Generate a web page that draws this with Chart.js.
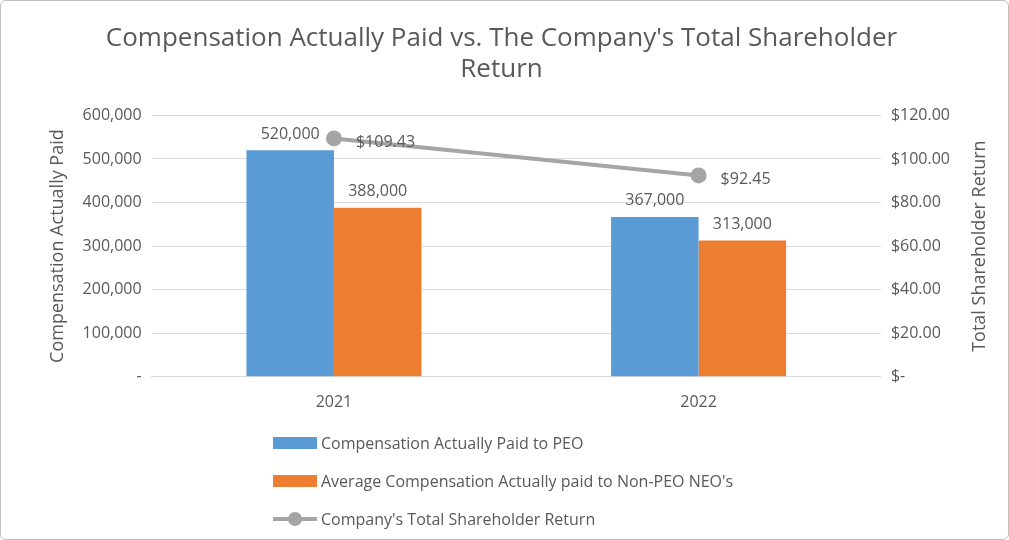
<!DOCTYPE html>
<html><head><meta charset="utf-8">
<script src="https://cdn.jsdelivr.net/npm/chart.js@4/dist/chart.umd.min.js"></script>
<style>
body{margin:0;background:#fff;font-family:Calibri,"Liberation Sans Narrow","Open Sans",sans-serif}
#wrap{position:relative;width:1007px;height:538px;border:1px solid #bfbfbf;border-radius:6px;overflow:hidden}
#legend{position:absolute;left:272px;top:423px;font-size:16px;color:#595959;font-family:"Open Sans",sans-serif}
#legend div{display:flex;align-items:center;height:38px}
.sw{width:44px;height:12px;margin-right:4px}
.ln{width:44px;height:4px;background:#a5a5a5;position:relative;margin-right:4px}
.ln:after{content:"";position:absolute;left:15px;top:-5px;width:14px;height:14px;border-radius:50%;background:#a5a5a5}
</style></head>
<body><div id="wrap"><canvas id="c" width="1007" height="538"></canvas>
<div id="legend">
<div><span class="sw" style="background:#5b9bd5"></span>Compensation Actually Paid to PEO</div>
<div><span class="sw" style="background:#ed7d31"></span>Average Compensation Actually paid to Non-PEO NEO's</div>
<div><span class="ln"></span>Company's Total Shareholder Return</div>
</div></div>
<script>
const years = ['2021', '2022'];
const peoPaid = [520000, 367000];
const neoPaid = [388000, 313000];
const tsr = [109.43, 92.45];

const grey = '#595959';
const font = {family: '"Open Sans", sans-serif', size: 16};

const labelPlugin = {
  id: 'labels',
  afterDatasetsDraw(chart) {
    const ctx = chart.ctx;
    ctx.save();
    ctx.font = '16px "Open Sans", sans-serif';
    ctx.fillStyle = grey;
    chart.data.datasets.forEach((ds, i) => {
      chart.getDatasetMeta(i).data.forEach((el, j) => {
        if (ds.type === 'line') {
          ctx.textAlign = 'left'; ctx.textBaseline = 'middle';
          ctx.fillText('$' + ds.data[j].toFixed(2), el.x + 22, el.y + 4);
        } else {
          ctx.textAlign = 'center'; ctx.textBaseline = 'bottom';
          ctx.fillText(ds.data[j].toLocaleString('en-US'), el.x, el.y - 8);
        }
      });
    });
    // right axis title, reading bottom to top
    const a = chart.chartArea;
    ctx.font = '18px "Open Sans", sans-serif';
    ctx.translate(chart.width - 28, (a.top + a.bottom) / 2);
    ctx.rotate(-Math.PI / 2);
    ctx.textAlign = 'center'; ctx.textBaseline = 'middle';
    ctx.fillText('Total Shareholder Return', 0, 0);
    ctx.restore();
  }
};

new Chart(document.getElementById('c'), {
  data: {
    labels: years,
    datasets: [
      {type: 'line', data: tsr, yAxisID: 'y1', borderColor: '#a5a5a5', backgroundColor: '#a5a5a5',
       borderWidth: 4, pointRadius: 6, pointHoverRadius: 6},
      {type: 'bar', data: peoPaid, yAxisID: 'y', backgroundColor: '#5b9bd5',
       categoryPercentage: 0.48, barPercentage: 1},
      {type: 'bar', data: neoPaid, yAxisID: 'y', backgroundColor: '#ed7d31',
       categoryPercentage: 0.48, barPercentage: 1}
    ]
  },
  options: {
    responsive: false, animation: false,
    layout: {padding: {left: 42, right: 48, top: 10, bottom: 119}},
    plugins: {
      legend: {display: false}, tooltip: {enabled: false},
      title: {display: true, text: ["Compensation Actually Paid vs. The Company's Total Shareholder", 'Return'],
        color: grey, font: {family: '"Open Sans", sans-serif', size: 26, weight: 'normal'},
        padding: {top: 12, bottom: 30}, lineHeight: 1.3}
    },
    scales: {
      x: {grid: {display: false}, border: {color: '#d9d9d9'}, ticks: {color: grey, font, padding: 8}},
      y: {min: 0, max: 600000, ticks: {stepSize: 100000, color: grey, font, padding: 10,
            callback: v => v === 0 ? '-' : v.toLocaleString('en-US')},
          grid: {color: '#d9d9d9', drawTicks: false}, border: {display: false},
          title: {display: true, text: 'Compensation Actually Paid', color: grey, font: {...font, size: 18}}},
      y1: {position: 'right', min: 0, max: 120, ticks: {stepSize: 20, color: grey, font, padding: 10,
            callback: v => v === 0 ? '$-' : '$' + v.toFixed(2)},
          grid: {display: false, drawTicks: false}, border: {display: false}}
    }
  },
  plugins: [labelPlugin]
});
</script></body></html>
